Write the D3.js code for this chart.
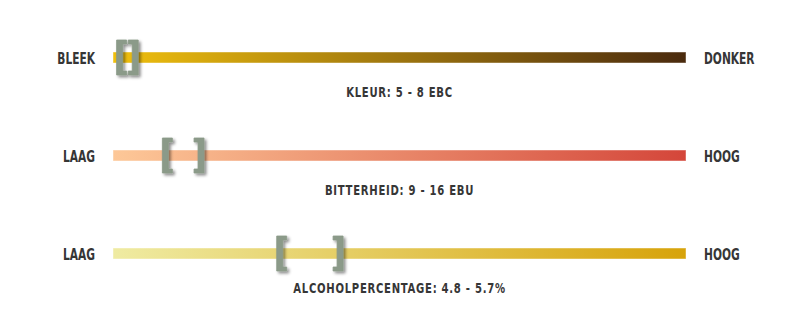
<!DOCTYPE html>
<html>
<head>
<meta charset="utf-8">
<script src="https://cdn.jsdelivr.net/npm/d3@7"></script>
<style>
  html, body { margin: 0; padding: 0; background: #fff; }
  svg { display: block; }
  text { font-family: "DejaVu Sans Condensed", "DejaVu Sans", sans-serif; font-weight: bold; fill: #363636; }
</style>
</head>
<body>
<div id="chart"></div>
<script>
// one row per scale bar
var leftLabels  = ["BLEEK", "LAAG", "LAAG"];
var rightLabels = ["DONKER", "HOOG", "HOOG"];
var captions    = ["KLEUR: 5 - 8 EBC", "BITTERHEID: 9 - 16 EBU", "ALCOHOLPERCENTAGE: 4.8 - 5.7%"];
var lowValues   = [5, 9, 4.8];
var highValues  = [8, 16, 5.7];
var domainMin   = [4.5, 0.7, 2.58];
var domainMax   = [84, 97, 10.35];
var colorStart  = ["#f0c00e", "#fdc898", "#efeba2"];
var colorEnd    = ["#4a2a0e", "#d4463a", "#d7a30a"];

var width = 800, height = 312;
var barLeft = 113, barRight = 686, barH = 11;
var squeeze = 0.74;     // narrow the glyphs, the original font is condensed

var rows = d3.range(leftLabels.length);

var y = d3.scalePoint()
  .domain(rows)
  .range([57.5, 253.5]);

var svg = d3.select("#chart").append("svg")
  .attr("width", width)
  .attr("height", height);

var defs = svg.append("defs");

// gradients for each bar
rows.forEach(function(i) {
  var grad = defs.append("linearGradient")
    .attr("id", "grad" + i)
    .attr("x1", "0%").attr("x2", "100%")
    .attr("y1", "0%").attr("y2", "0%");
  grad.append("stop").attr("offset", "0%").attr("stop-color", colorStart[i]);
  grad.append("stop").attr("offset", "100%").attr("stop-color", colorEnd[i]);
});

// shadow under the brackets
var filter = defs.append("filter")
  .attr("id", "drop-shadow")
  .attr("x", "-50%").attr("y", "-20%")
  .attr("width", "200%").attr("height", "140%");
filter.append("feDropShadow")
  .attr("dx", 2)
  .attr("dy", 2)
  .attr("stdDeviation", 1.6)
  .attr("flood-color", "#000")
  .attr("flood-opacity", 0.45);

var g = svg.selectAll("g.row")
  .data(rows)
  .enter().append("g")
  .attr("class", "row")
  .attr("transform", function(i) { return "translate(0," + y(i) + ")"; });

g.append("rect")
  .attr("x", barLeft)
  .attr("y", -barH / 2)
  .attr("width", barRight - barLeft)
  .attr("height", barH)
  .attr("fill", function(i) { return "url(#grad" + i + ")"; })
  .attr("stroke", "rgba(255,255,255,0.45)")
  .attr("stroke-width", 1);

function label(sel, x, yy, anchor, size, sx, spacing, txt) {
  sel.append("g")
    .attr("transform", "translate(" + x + "," + yy + ") scale(" + sx + ",1)")
    .append("text")
    .attr("text-anchor", anchor)
    .style("font-size", size + "px")
    .style("letter-spacing", spacing + "px")
    .text(txt);
}

g.each(function(i) {
  var row = d3.select(this);
  label(row, barLeft - 18, 6.5, "end", 16, squeeze, 0, leftLabels[i]);
  label(row, barRight + 18, 6.5, "start", 16, squeeze, 0, rightLabels[i]);
  label(row, (barLeft + barRight) / 2, 39.5, "middle", 14, 0.8, 0.9, captions[i]);
});

// bracket shape, dir = 1 for "[" and -1 for "]"
var bh = 17.5, bw = 6, arm = 10, at = 4;
function bracket(x0, dir) {
  var p = d3.path();
  p.moveTo(x0, -bh);
  p.lineTo(x0 + dir * arm, -bh);
  p.lineTo(x0 + dir * arm, -bh + at);
  p.lineTo(x0 + dir * bw, -bh + at);
  p.lineTo(x0 + dir * bw, bh - at);
  p.lineTo(x0 + dir * arm, bh - at);
  p.lineTo(x0 + dir * arm, bh);
  p.lineTo(x0, bh);
  p.closePath();
  return p.toString();
}

g.each(function(i) {
  var x = d3.scaleLinear()
    .domain([domainMin[i], domainMax[i]])
    .range([barLeft, barRight]);
  var row = d3.select(this).append("g")
    .style("filter", "url(#drop-shadow)");
  row.append("path")
    .attr("d", bracket(x(lowValues[i]), 1))
    .attr("fill", "#8b9a89")
    .attr("stroke", "#8b9a89")
    .attr("stroke-width", 0.8)
    .attr("stroke-linejoin", "round");
  row.append("path")
    .attr("d", bracket(x(highValues[i]), -1))
    .attr("fill", "#8b9a89")
    .attr("stroke", "#8b9a89")
    .attr("stroke-width", 0.8)
    .attr("stroke-linejoin", "round");
});
</script>
</body>
</html>
